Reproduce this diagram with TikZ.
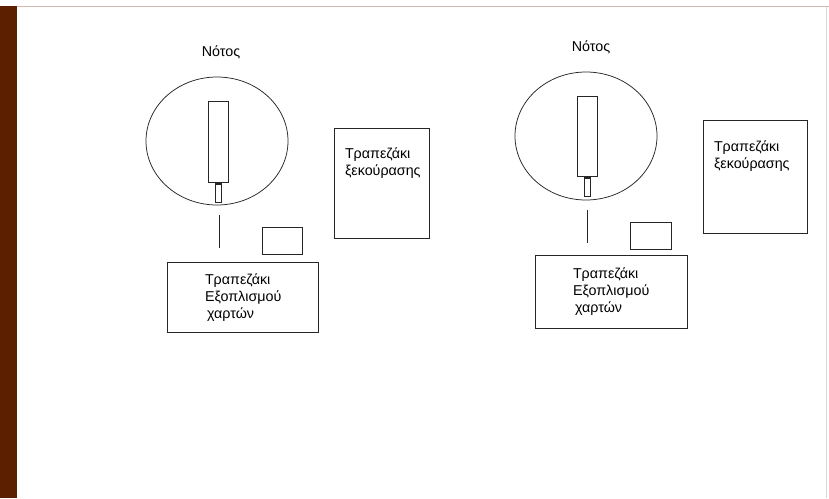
\documentclass[tikz,border=0pt]{standalone}
\usepackage{fontspec}
\setmainfont{Liberation Sans}
\usetikzlibrary{calc}
\definecolor{barbrown}{RGB}{92,31,0}
\definecolor{toppink}{RGB}{214,186,176}
\definecolor{edgegray}{RGB}{215,215,215}
\tikzset{
  outl/.style={draw=black!85, line width=0.75pt},
  boxn/.style={outl, minimum width=#1, inner sep=0pt, anchor=north west},
  lbl/.style={inner sep=0pt, outer sep=0pt, font=\fontsize{14.3}{16.7}\selectfont, align=left, anchor=base west},
  ttl/.style={inner sep=0pt, outer sep=0pt, font=\fontsize{14.3}{17}\selectfont, anchor=base}
}
\begin{document}
\begin{tikzpicture}[x=1pt,y=-1pt]
\useasboundingbox (0,0) rectangle (829,498);
\fill[white] (0,0) rectangle (829,498);
% frame
\fill[barbrown] (0,6) rectangle (17,498);
\draw[toppink, line width=1.2pt] (17,6.5) -- (829,6.5);
\draw[edgegray, line width=1pt] (826,6.5) -- (826,498);

% ---------- left group ----------
\node[ttl] (n1) at (221,56) {Νότος};
\draw[outl] (217,141) ellipse [x radius=71, y radius=64];
\node[boxn=20pt, minimum height=81pt] (t1) at (208,101) {};
\node[outl, minimum width=6pt, minimum height=19pt, inner sep=0pt, anchor=north] (s1) at (t1.south) {};
\fill[black!85] (s1.north west) rectangle ($(s1.north east)+(0,2.5)$);
\coordinate (l1a) at (219,215);
\coordinate (l1b) at (219,248);
\draw[outl] (l1a) -- (l1b);
\node[boxn=40pt, minimum height=27pt] (c1) at (262,227) {};
\node[boxn=151pt, minimum height=70pt] (e1) at (167,262) {};
\node[lbl] (e1t) at (205,318) {Τραπεζάκι\\Εξοπλισμού\\\hspace*{2pt}χαρτών};
\node[boxn=95pt, minimum height=110pt] (r1) at (334,128) {};
\node[lbl] (r1t) at (345,175) {Τραπεζάκι\\ξεκούρασης};

% ---------- right group ----------
\node[ttl] (n2) at (591,51) {Νότος};
\draw[outl] (586,136) ellipse [x radius=71, y radius=64];
\node[boxn=20pt, minimum height=80pt] (t2) at (577,96) {};
\node[outl, minimum width=6pt, minimum height=19pt, inner sep=0pt, anchor=north] (s2) at (t2.south) {};
\fill[black!85] (s2.north west) rectangle ($(s2.north east)+(0,2.5)$);
\coordinate (l2a) at (587,210);
\coordinate (l2b) at (587,243);
\draw[outl] (l2a) -- (l2b);
\node[boxn=41pt, minimum height=27pt] (c2) at (630,222) {};
\node[boxn=152pt, minimum height=73pt] (e2) at (535,255) {};
\node[lbl] (e2t) at (573,312) {Τραπεζάκι\\Εξοπλισμού\\\hspace*{2pt}χαρτών};
\node[boxn=104pt, minimum height=113pt] (r2) at (703,120) {};
\node[lbl] (r2t) at (714,168) {Τραπεζάκι\\ξεκούρασης};
\end{tikzpicture}
\end{document}
